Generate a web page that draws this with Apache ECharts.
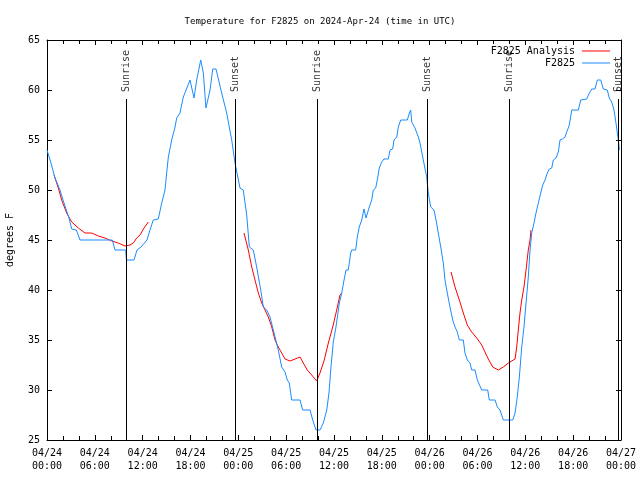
<!DOCTYPE html>
<html>
<head>
<meta charset="utf-8">
<script src="https://cdn.jsdelivr.net/npm/echarts@6/dist/echarts.min.js"></script>
<style>html,body{margin:0;padding:0;background:#fff}#c{width:640px;height:480px}</style>
</head>
<body>
<div id="c"></div>
<script>
// hours since 2024-04-24 00:00 UTC
const blueHours = [0,0.50,1.00,1.63,2.01,2.76,3.10,3.68,4.14,8.19,8.53,9.87,9.97,10.91,11.29,11.79,12.54,12.92,13.33,13.96,14.39,14.80,15.01,15.22,15.64,16.06,16.27,16.68,17.10,17.94,18.44,18.78,19.28,19.61,19.94,20.45,20.79,21.20,21.91,22.54,23.17,23.58,24.21,24.62,25.05,25.38,25.88,26.30,26.81,27.13,27.56,27.97,28.39,29.01,29.44,29.85,30.14,30.39,30.69,31.74,32.07,32.99,33.33,33.74,34.24,34.66,35.09,35.37,35.62,35.91,36.25,36.67,36.97,37.26,37.51,37.79,38.10,38.22,38.72,38.92,39.17,39.48,39.76,40.01,40.43,40.73,40.93,41.23,41.43,41.68,41.98,42.27,42.81,43.03,43.36,43.53,43.87,44.07,44.37,45.20,45.45,45.62,45.75,46.16,46.58,46.79,47.20,47.63,47.83,48.13,48.54,48.80,49.08,49.39,49.71,49.92,50.21,50.55,50.89,51.18,51.47,51.72,52.22,52.43,52.72,53.06,53.27,53.69,53.98,54.23,54.53,55.28,55.48,56.20,56.49,56.82,57.24,58.42,58.71,58.99,59.25,59.55,59.83,60.09,60.37,60.59,60.80,61.09,61.34,61.63,61.93,62.18,62.47,62.76,63.01,63.31,63.51,63.85,64.14,64.35,64.64,64.98,65.19,65.52,65.82,66.65,66.95,67.70,68.03,68.33,68.74,69.03,69.46,69.78,70.28,70.53,70.83,71.12,71.37,71.54,71.67,71.80];
const blueTemps = [54.0,52.7,51.2,50.0,49.0,47.2,46.1,46.0,45.0,45.0,44.0,44.0,43.0,43.0,44.0,44.3,45.0,46.0,47.0,47.1,48.7,50.0,51.7,53.3,55.0,56.3,57.2,57.7,59.3,61.0,59.2,61.0,63.0,61.7,58.2,60.0,62.1,62.1,59.7,57.7,55.0,52.7,50.2,50.0,47.5,44.3,44.0,42.3,40.0,38.3,38.0,37.3,36.0,34.0,32.3,31.8,31.0,30.7,29.0,29.0,28.0,28.0,27.0,26.0,26.0,26.7,28.0,29.7,32.3,34.8,36.3,38.7,39.7,41.0,42.0,42.0,43.7,44.0,44.0,45.3,46.3,47.0,48.1,47.2,48.3,49.0,50.0,50.2,51.0,52.2,52.8,53.1,53.1,54.0,54.1,55.0,55.3,56.3,57.0,57.0,57.7,58.0,56.8,56.2,55.3,54.7,53.0,51.3,49.7,48.3,48.0,47.0,45.7,44.3,42.7,41.0,39.7,38.3,37.0,36.3,35.8,35.0,35.0,33.7,33.0,32.7,32.0,32.0,31.0,30.8,30.0,30.0,29.0,29.0,28.3,28.0,27.0,27.0,27.7,29.3,31.3,34.3,36.3,38.7,41.3,44.0,45.7,46.7,47.7,48.7,49.7,50.5,51.0,51.7,52.1,52.2,53.0,53.2,53.8,55.0,55.1,55.3,55.8,56.5,58.0,58.0,59.0,59.1,59.7,60.1,60.1,61.0,61.0,60.1,60.0,59.2,58.8,58.0,56.7,55.7,55.0,54.0];

const redHours = [0.88,1.42,1.84,2.47,3.10,3.93,4.77,5.61,6.44,7.28,8.12,8.94,9.78,10.41,10.83,11.25,11.67,12.17,12.71,
  18.0,
  24.71,25.25,25.68,26.09,26.51,26.93,27.35,27.76,28.19,28.60,29.01,29.44,29.85,30.48,31.11,31.74,32.15,32.65,33.20,33.83,34.24,34.78,35.29,35.84,36.34,36.75,36.97,
  44.0,
  50.68,51.18,51.72,52.22,52.72,53.27,53.90,54.53,54.94,55.36,55.91,56.61,57.24,57.87,58.71,58.92,59.12,59.33,59.55,59.83,60.09,60.37,60.59,60.71];
const redTemps = [51.5,50.2,49.0,47.7,46.8,46.2,45.7,45.7,45.4,45.2,44.9,44.7,44.4,44.5,44.7,45.2,45.5,46.2,46.8,
  null,
  45.7,44.0,42.3,41.0,39.7,38.7,38.0,37.3,36.3,35.0,34.3,33.7,33.1,32.9,33.1,33.3,32.7,32.0,31.5,30.9,31.7,33.0,34.7,36.3,38.0,39.5,39.7,
  null,
  41.8,40.3,39.0,37.7,36.5,35.8,35.2,34.5,33.8,33.1,32.3,32.0,32.3,32.7,33.1,34.3,36.0,37.7,39.0,40.3,42.0,44.0,45.0,46.0];

const sunriseHours = [9.95, 33.9, 58.0];
const sunsetHours = [23.62, 47.7, 71.7];
const sunLineTop = 59.1;

const dayLabels = ['04/24','04/25','04/26','04/27'];

const FONT = '"DejaVu Sans Mono", "Liberation Mono", monospace';
const chart = echarts.init(document.getElementById('c'), null, {renderer:'canvas'});

function pad(n){return (n<10?'0':'')+n;}
function xLabel(v){
  const d = Math.floor(v/24 + 1e-9);
  const h = Math.round(v - d*24);
  return dayLabels[d] + '\n' + pad(h) + ':00';
}

const blueData = blueHours.map((h,i)=>[h, blueTemps[i]]);
const redData = redHours.map((h,i)=>[h, redTemps[i]===null ? '-' : redTemps[i]]);

const sunEvents = sunriseHours.map(h=>({h, name:'Sunrise'})).concat(sunsetHours.map(h=>({h, name:'Sunset'})));

const axisCommon = {
  type:'value', min:0, max:72, interval:6,
  axisLine:{show:true, onZero:false, lineStyle:{color:'#000', width:1}},
  axisTick:{show:true, inside:true, length:5, lineStyle:{color:'#000'}},
  minorTick:{show:true, splitNumber:3, length:4, lineStyle:{color:'#000'}},
  splitLine:{show:false}
};

const legendCommon = {orient:'vertical', right:25, align:'right', itemWidth:28, itemHeight:1, itemGap:2,
  icon:'rect',
  textStyle:{fontFamily:FONT, fontSize:10, color:'#000', padding:[0,2,0,0]}};

chart.setOption({
  animation:false,
  backgroundColor:'#fff',
  title:{
    text:'Temperature for F2825 on 2024-Apr-24 (time in UTC)',
    left:'center', top:12,
    textStyle:{fontFamily:FONT, fontSize:9, fontWeight:'normal', color:'#000'}
  },
  legend:[
    Object.assign({data:['F2825 Analysis'], top:41}, legendCommon),
    Object.assign({data:['F2825'], top:53}, legendCommon)
  ],
  grid:{left:47, right:19, top:40, bottom:40, containLabel:false, outerBoundsMode:'none'},
  xAxis:[
    Object.assign({}, axisCommon, {position:'bottom',
      axisLabel:{show:true, formatter:xLabel, fontFamily:FONT, fontSize:10, color:'#000', margin:7, lineHeight:13}}),
    Object.assign({}, axisCommon, {position:'top', axisLabel:{show:false}})
  ],
  yAxis:[
    {type:'value', min:25, max:65, interval:5, position:'left',
     name:'degrees F', nameLocation:'middle', nameGap:32, nameRotate:90,
     nameTextStyle:{fontFamily:FONT, fontSize:10, color:'#000'},
     axisLine:{show:true, onZero:false, lineStyle:{color:'#000'}},
     axisTick:{show:true, inside:true, length:5, lineStyle:{color:'#000'}},
     axisLabel:{fontFamily:FONT, fontSize:10, color:'#000', margin:7},
     splitLine:{show:false}},
    {type:'value', min:25, max:65, interval:5, position:'right',
     axisLine:{show:true, onZero:false, lineStyle:{color:'#000'}},
     axisTick:{show:true, inside:true, length:5, lineStyle:{color:'#000'}},
     axisLabel:{show:false}, splitLine:{show:false}}
  ],
  series:[
    {name:'sun', type:'line', data:[], silent:true,
     markLine:{silent:true, symbol:['none','none'], animation:false,
       lineStyle:{color:'#000', width:1, type:'solid'},
       label:{show:false},
       data: sunEvents.map(e=>[{coord:[e.h,25]},{coord:[e.h,sunLineTop]}])}},
    {name:'sunLabels', type:'scatter', symbolSize:0, silent:true,
     data: sunEvents.map(e=>({name:e.name, value:[e.h, sunLineTop]})),
     label:{show:true, formatter:'{b}', position:'top', distance:7, rotate:90, align:'left', verticalAlign:'middle',
       fontFamily:FONT, fontSize:10, color:'#000'}},
    {name:'F2825 Analysis', type:'line', data:redData, symbol:'none', connectNulls:false,
     lineStyle:{color:'#ff0000', width:1}, itemStyle:{color:'#ff0000'}},
    {name:'F2825', type:'line', data:blueData, symbol:'none',
     lineStyle:{color:'#1a8cff', width:1}, itemStyle:{color:'#1a8cff'}}
  ]
});
</script>
</body>
</html>
